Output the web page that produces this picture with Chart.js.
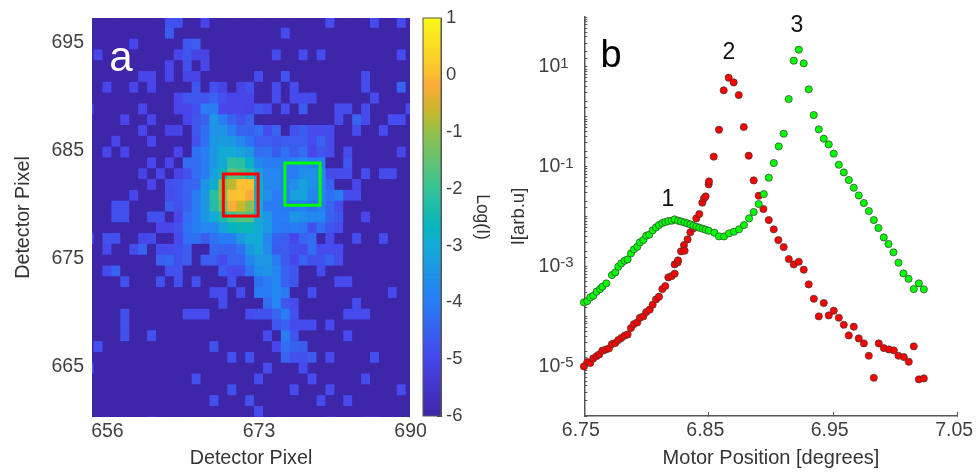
<!DOCTYPE html>
<html><head><meta charset="utf-8">
<style>html,body{margin:0;padding:0;background:#fff;width:979px;height:474px;overflow:hidden}canvas{position:absolute;top:0}</style>
<script src="https://cdn.jsdelivr.net/npm/chart.js@4"></script></head>
<body>
<canvas id="heat" width="432" height="474" style="left:0"></canvas>
<canvas id="bar" width="100" height="474" style="left:415px"></canvas>
<canvas id="scan" width="479" height="474" style="left:500px"></canvas>
<script>
// Panel a: Log(I) as tenths above the -6 floor, per detector row (top to bottom), key = column - 655
const hotRows=[
{8:12,9:12,12:10,26:11,31:11,34:11},
{8:14,21:11},
{4:10,10:13,11:14},
{0:10,9:10,10:13,11:9,12:9,20:11,23:11,25:11,34:11},
{8:10,10:12,12:10},
{5:10,6:10,8:10,10:9,11:9,18:11,21:13,30:11},
{1:10,4:10,6:10,11:13,13:12,14:9,16:9,17:12,20:11,22:11,30:11,34:15},
{9:10,10:13,11:13,12:13,13:15,14:12,15:10,16:10,17:10,20:11,22:11,23:11,24:11,31:11},
{"-1":10,5:10,9:10,10:10,11:12,12:20,13:20,14:10,15:10,16:10,17:9,18:13,19:11,21:11,23:14,27:11,28:11,30:11,35:11},
{3:10,6:10,10:10,11:13,12:15,13:25,14:20,15:15,16:12,17:15,27:11,29:15,30:11,33:11,34:11},
{5:10,8:9,9:9,11:13,12:17,13:25,14:25,15:20,16:15,17:15,18:17,19:11,20:15,22:12,23:14,24:11,25:11,26:11,29:11,32:11},
{2:10,6:10,11:12,12:18,13:26,14:27,15:26,16:22,17:18,18:14,19:14,20:13,21:14,22:14,23:14,24:11,25:15,26:11},
{1:10,3:10,9:10,11:18,12:20,13:26,14:30,15:30,16:28,17:26,18:17,19:18,20:14,21:18,22:14,23:17,24:10,25:13,26:11,28:11,34:10},
{6:10,8:10,10:17,11:17,12:20,13:26,14:30,15:39,16:38,17:32,18:22,19:20,20:20,21:19,22:20,23:22,24:20,25:20,28:13},
{5:9,7:10,9:9,10:12,11:17,12:20,13:28,14:34,15:44,16:42,17:38,18:28,19:22,20:22,21:20,22:20,23:24,24:24,25:24,26:11,27:11,28:11,30:11,32:11,33:11},
{6:10,8:12,9:13,10:15,11:16,12:25,13:31,14:48,15:53,16:60,17:60,18:32,19:22,20:22,21:20,22:24,23:28,24:24,25:22,26:15,29:10},
{4:10,8:11,9:13,10:15,11:20,12:26,13:38,14:48,15:60,16:61,17:58,18:32,19:24,20:20,21:20,22:28,23:28,24:22,25:22,26:18,27:20,28:11,29:11},
{2:12,3:12,8:14,9:12,10:15,11:20,12:26,13:37,14:45,15:58,16:54,17:49,18:30,19:20,20:20,21:19,22:19,23:20,24:18,25:20,26:16,27:11},
{2:12,3:12,6:12,7:12,9:10,10:17,11:20,12:26,13:30,14:36,15:41,16:43,17:43,18:30,19:26,20:20,21:20,22:26,23:24,24:22,25:22,26:15,27:13,30:10},
{7:10,8:10,9:12,10:18,11:20,12:22,13:22,14:28,15:33,16:34,17:34,18:30,19:26,20:20,21:19,22:20,23:19,24:12,25:17,26:13,27:11},
{"-1":12,1:12,2:12,5:10,6:11,9:11,10:17,11:18,12:14,13:18,14:20,15:20,16:26,17:30,18:30,19:22,20:15,21:14,22:10,23:15,24:17,26:11,29:11,32:11},
{1:11,4:11,5:15,7:11,8:11,9:12,10:14,13:16,14:15,15:15,16:18,17:26,18:29,19:23,20:14,21:14,22:12,23:11,24:17,25:11,26:11,27:11},
{7:15,8:16,9:12,10:14,12:14,13:14,14:11,15:15,16:15,17:22,18:26,19:26,20:20,21:14,22:10,23:15,24:12,25:12,26:15,27:11},
{1:11,2:15,8:12,9:12,14:14,15:11,16:11,17:18,18:24,19:25,20:22,21:15,22:13,25:11},
{3:12,7:12,9:12,11:12,15:12,18:18,19:20,20:22,21:15,22:13,27:11,28:11},
{13:11,14:11,16:11,18:20,19:20,20:22,21:20,24:11,33:11},
{14:11,19:17,20:22,21:13,22:11,29:11},
{3:12,10:11,11:11,12:11,17:11,18:12,19:12,20:15,21:20,22:12,28:11,29:11,30:11},
{3:12,20:13,21:15,22:11,23:11,24:11,26:11},
{3:12,6:12,19:11,21:20,22:13,28:11},
{0:12,13:12,20:10,21:17,22:15,23:14},
{15:12,17:12,21:15,22:12,23:12,24:14,26:11,31:12},
{"-1":12,19:11,23:11},
{11:12,18:11,24:11,30:11},
{15:12,22:11,26:11,34:11},
{13:12,17:12,25:11,28:11},
{18:11},
{6:11,26:11,30:11,31:11}
];
const firstRowTop=697.41;
const redBoxX=[669.0,672.9], redBoxY=[678.94,682.84];
const greenBoxX=[675.9,679.85], greenBoxY=[679.94,683.84];
const heatXTicks=[656,673,690], heatYTicks=[695,685,675,665];
const colorbarTicks=[1,0,-1,-2,-3,-4,-5,-6];
// colour map stops: [Log(I), r, g, b]
const colorStops=[[-6,62,38,168],[-5,72,70,235],[-4,40,125,245],[-3,20,170,215],[-2.7,5,180,190],[-2,55,195,150],[-1,150,192,72],[-0.6,205,182,42],[-0.2,250,172,58],[0,252,190,50],[1,249,251,21]];
// Panel b
const redX=[6.7497,6.7524,6.7548,6.7572,6.7599,6.7620,6.7645,6.7671,6.7698,6.7722,6.7749,6.7773,6.7797,6.7824,6.7848,6.7875,6.7899,6.7926,6.7947,6.7974,6.7998,6.8025,6.8049,6.8076,6.8100,6.8127,6.8151,6.8175,6.8202,6.8226,6.8226,6.8250,6.8253,6.8277,6.8301,6.8306,6.8330,6.8352,6.8376,6.8400,6.8424,6.8448,6.8462,6.8475,6.8499,6.8502,6.8540,6.8582,6.8620,6.8660,6.8700,6.8741,6.8781,6.8821,6.8861,6.8901,6.8939,6.8982,6.9022,6.9059,6.9102,6.9143,6.9183,6.9223,6.9263,6.9303,6.9344,6.9384,6.9424,6.9464,6.9504,6.9545,6.9585,6.9625,6.9665,6.9705,6.9746,6.9786,6.9826,6.9866,6.9906,6.9947,6.9987,7.0024,7.0067,7.0107,7.0147,7.0188,7.0228];
const redLogI=[-5.006,-4.919,-4.939,-4.845,-4.798,-4.765,-4.691,-4.671,-4.645,-4.558,-4.538,-4.477,-4.437,-4.391,-4.364,-4.237,-4.157,-4.123,-4.030,-4.003,-3.916,-3.869,-3.769,-3.662,-3.608,-3.455,-3.395,-3.221,-3.194,-3.147,-2.960,-2.920,-2.880,-2.699,-2.572,-2.686,-2.459,-2.318,-2.238,-2.038,-1.951,-1.723,-1.637,-1.597,-1.356,-1.296,-0.801,-0.260,0.529,0.783,0.689,0.435,-0.206,-0.781,-1.276,-1.583,-1.850,-2.071,-2.258,-2.472,-2.613,-2.853,-2.960,-2.907,-3.067,-3.361,-3.649,-4.003,-3.736,-3.983,-3.889,-4.030,-4.170,-4.384,-4.210,-4.444,-4.544,-4.792,-5.233,-4.544,-4.638,-4.665,-4.685,-4.792,-4.818,-4.912,-4.604,-5.266,-5.246];
const greenX=[6.7497,6.7524,6.7548,6.7572,6.7599,6.7626,6.7645,6.7677,6.7722,6.7749,6.7773,6.7797,6.7824,6.7848,6.7875,6.7899,6.7926,6.7947,6.7974,6.7998,6.8022,6.8049,6.8076,6.8100,6.8127,6.8151,6.8175,6.8202,6.8226,6.8253,6.8277,6.8304,6.8328,6.8352,6.8376,6.8400,6.8424,6.8451,6.8475,6.8499,6.8545,6.8582,6.8623,6.8663,6.8703,6.8743,6.8783,6.8824,6.8861,6.8901,6.8942,6.8982,6.9022,6.9062,6.9102,6.9142,6.9183,6.9223,6.9263,6.9303,6.9343,6.9384,6.9424,6.9464,6.9504,6.9545,6.9585,6.9625,6.9665,6.9705,6.9746,6.9786,6.9826,6.9863,6.9906,6.9944,6.9984,7.0024,7.0064,7.0105,7.0147,7.0188,7.0228];
const greenLogI=[-3.722,-3.695,-3.622,-3.588,-3.508,-3.455,-3.408,-3.341,-3.174,-3.121,-3.007,-2.940,-2.887,-2.860,-2.740,-2.659,-2.606,-2.519,-2.472,-2.385,-2.365,-2.278,-2.218,-2.171,-2.131,-2.111,-2.091,-2.084,-2.058,-2.084,-2.098,-2.118,-2.138,-2.158,-2.185,-2.205,-2.225,-2.245,-2.265,-2.285,-2.325,-2.399,-2.399,-2.338,-2.305,-2.258,-2.171,-2.038,-1.911,-1.750,-1.550,-1.222,-0.928,-0.594,-0.340,0.355,1.124,1.345,1.070,0.549,0.034,-0.253,-0.440,-0.554,-0.741,-0.962,-1.116,-1.269,-1.423,-1.578,-1.730,-1.891,-2.071,-2.231,-2.419,-2.552,-2.719,-2.927,-3.141,-3.248,-3.455,-3.341,-3.461];
const scanXTicks=[6.75,6.85,6.95,7.05];
const peakLabels=[{t:"1",x:168,y:200},{t:"2",x:229,y:53},{t:"3",x:297,y:26}];

const FONT='"Liberation Sans",Arial,sans-serif';
const TICK='#404040', AXIS='#555555';
function logColor(l){
  l=Math.max(-6,Math.min(1,l));
  let i=0;while(i<colorStops.length-2&&l>colorStops[i+1][0])i++;
  const a=colorStops[i],b=colorStops[i+1],f=(l-a[0])/(b[0]-a[0]);
  return `rgb(${[1,2,3].map(n=>Math.round(a[n]+(b[n]-a[n])*f)).join(',')})`;
}
const heatColor=tenths=>logColor(-6+tenths/10);
const fixedTicks=v=>s=>{s.ticks=v.map(value=>({value}));};
const noPad=s=>{s.paddingLeft=s.paddingRight=s.paddingTop=s.paddingBottom=0;};
const fixW=w=>s=>{s.width=w;noPad(s);};
const fixH=h=>s=>{s.height=h;noPad(s);};
const base={responsive:false,animation:false,events:[],plugins:{legend:{display:false},tooltip:{enabled:false}}};
function textPlugin(items){return {id:'txt',afterDraw(c){const x=c.ctx;x.save();x.textAlign='center';x.textBaseline='middle';
  items.forEach(i=>{x.font=`${i.s}px ${FONT}`;x.fillStyle=i.c;x.fillText(i.t,i.x,i.y);});x.restore();}};}

const heatColumns=[];for(let k=-1;k<=35;k++)heatColumns.push(k);
const rowSets=hotRows.map((row,j)=>{
  const top=firstRowTop-j;
  return {type:'bar',order:2,grouped:false,barPercentage:1,categoryPercentage:1,borderWidth:0,inflateAmount:0.5,
    data:heatColumns.map(k=>({x:655+k,y:[top-1,top]})),
    backgroundColor:heatColumns.map(k=>heatColor(row[k]||0))};
});
const boxSet=(xs,ys,col)=>({type:'scatter',order:0,showLine:true,borderColor:col,borderWidth:3,pointRadius:0,borderJoinStyle:'miter',borderCapStyle:'square',fill:false,tension:0,
  data:[{x:xs[0],y:ys[0]},{x:xs[1],y:ys[0]},{x:xs[1],y:ys[1]},{x:xs[0],y:ys[1]},{x:xs[0],y:ys[0]}]});
new Chart(document.getElementById('heat'),{type:'bar',
  data:{datasets:[...rowSets,boxSet(redBoxX,redBoxY,'#ff0000'),boxSet(greenBoxX,greenBoxY,'#00ff00')]},
  options:{...base,layout:{padding:{top:18,right:22,left:0,bottom:0}},
    scales:{
      x:{type:'linear',offset:false,min:654.27,max:689.93,afterBuildTicks:fixedTicks(heatXTicks),afterFit:fixH(57),
        grid:{display:false,drawTicks:false},border:{display:false},
        ticks:{color:TICK,font:{family:FONT,size:19.5},padding:3,maxRotation:0,autoSkip:false,callback:v=>String(v)},
        title:{display:true,text:'Detector Pixel',color:'#333',font:{family:FONT,size:19.7},padding:{top:0,bottom:4}}},
      y:{type:'linear',min:660.34,max:697.27,afterBuildTicks:fixedTicks(heatYTicks),afterFit:fixW(92),
        grid:{display:false,drawTicks:false},border:{display:false},
        ticks:{color:TICK,font:{family:FONT,size:19.5},padding:8,autoSkip:false,callback:v=>String(v)},
        title:{display:true,text:'Detector Pixel',color:'#333',font:{family:FONT,size:19.7},padding:{top:12,bottom:0}}}
    }},
  plugins:[textPlugin([{t:'a',x:121,y:59,s:42,c:'#ffffff'}])]});

const barSteps=[];for(let v=-6;v<1;v+=0.05)barSteps.push(v);
new Chart(document.getElementById('bar'),{type:'bar',
  data:{labels:[''],datasets:barSteps.map(v=>({grouped:false,barPercentage:1,categoryPercentage:1,borderWidth:0,inflateAmount:0.5,
    data:[[v,v+0.05]],backgroundColor:logColor(v+0.025)}))},
  options:{...base,layout:{padding:{top:18,left:8,right:0,bottom:58}},
    scales:{
      x:{display:false},
      y:{position:'right',type:'linear',min:-6,max:1,afterBuildTicks:fixedTicks(colorbarTicks),afterFit:fixW(74),
        grid:{drawOnChartArea:false,tickLength:-4,color:'#444',tickColor:'#444'},border:{color:'#555',width:1},
        ticks:{color:TICK,font:{family:FONT,size:18.5},padding:9,autoSkip:false,callback:v=>String(v)},
        title:{display:true,text:'Log(I)',color:'#333',font:{family:FONT,size:17.5},padding:{top:23,bottom:0}}}
    }},
  plugins:[{id:'frame',afterDraw(c){const a=c.chartArea,x=c.ctx;x.save();x.strokeStyle='#555';x.lineWidth=1;x.strokeRect(a.left,a.top,a.right-a.left,a.bottom-a.top);x.restore();}}]});

const toPts=(xs,ls)=>xs.map((x,i)=>({x,y:Math.pow(10,ls[i])}));
const dots=(xs,ls,col,order)=>({type:'scatter',order,data:toPts(xs,ls),showLine:false,pointRadius:3.6,pointBorderWidth:0.7,pointBorderColor:'#3a3a3a',pointBackgroundColor:col});
const labelledDecades=[-5,-3,-1,1];
const isLabelled=v=>{const e=Math.log10(v),r=Math.round(e);return Math.abs(e-r)<1e-6&&labelledDecades.includes(r);};
new Chart(document.getElementById('scan'),{type:'scatter',
  data:{datasets:[dots(greenX,greenLogI,'#00ff00',0),dots(redX,redLogI,'#ff0000',1)]},
  options:{...base,clip:false,layout:{padding:{top:17,right:21.3,left:0,bottom:0}},
    scales:{
      x:{type:'linear',min:6.75,max:7.05,afterBuildTicks:fixedTicks(scanXTicks),afterFit:fixH(58),
        grid:{drawOnChartArea:false,tickLength:-4,color:AXIS,tickColor:AXIS},border:{color:AXIS,width:1.5},
        ticks:{color:TICK,font:{family:FONT,size:19.5},padding:7,labelOffset:-3.5,maxRotation:0,autoSkip:false,callback:v=>v.toFixed(2)},
        title:{display:true,text:'Motor Position [degrees]',color:'#333',font:{family:FONT,size:20},padding:{top:0,bottom:4}}},
      y:{type:'logarithmic',min:1e-6,max:100,afterFit:fixW(84.3),
        grid:{drawOnChartArea:false,tickLength:-3,color:AXIS,tickColor:AXIS},border:{color:AXIS,width:1.5},
        ticks:{color:TICK,font:{family:FONT,size:19.5},padding:27,autoSkip:false,
          callback:v=>isLabelled(v)?'10':''},
        title:{display:true,text:'I[arb.u]',color:'#333',font:{family:FONT,size:18.5},padding:{top:8,bottom:0}}}
    }},
  plugins:[textPlugin([{t:'b',x:111,y:57,s:38,c:'#000'},...peakLabels.map(p=>({...p,s:23,c:'#111'}))]),
    {id:'exponents',afterDraw(c){const s=c.scales.y,x=c.ctx;x.save();x.font=`15px ${FONT}`;x.fillStyle=TICK;x.textAlign='left';x.textBaseline='alphabetic';
      labelledDecades.forEach(e=>{x.fillText(String(e),s.left+s.width-24,s.getPixelForValue(Math.pow(10,e))+1);});x.restore();}}]});
</script>
</body></html>
